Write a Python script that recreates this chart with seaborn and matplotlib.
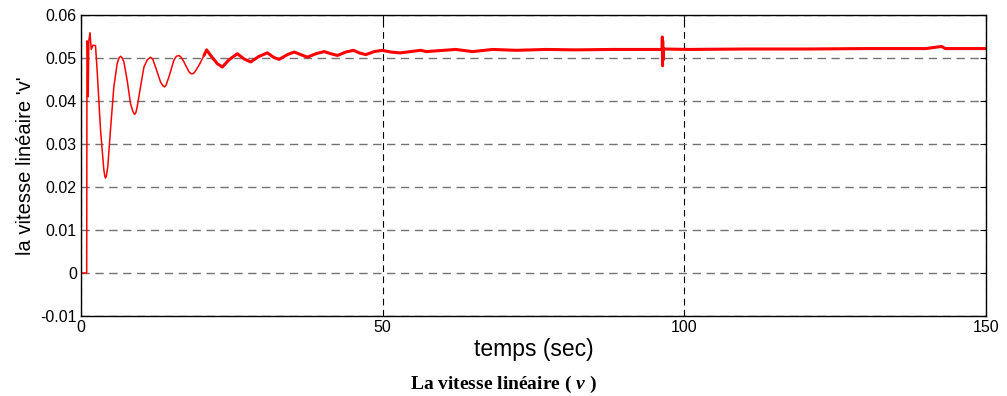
import numpy as np
import pandas as pd
import matplotlib
matplotlib.use("Agg")
import matplotlib.pyplot as plt
import seaborn as sns

# values (time in s, linear speed)
time_s = [0.0, 0.95, 1.0, 1.1, 1.2, 1.3, 1.5, 1.7, 2.0, 2.41, 2.68, 3.24, 3.79, 3.95,
          4.07, 4.2, 4.45, 4.89, 5.45, 6.00, 6.3, 6.55, 6.8, 7.11, 7.66, 8.21, 8.6,
          8.88, 9.1, 9.32, 9.87, 10.43, 11.0, 11.53, 11.9, 12.36, 13.19, 13.6, 13.86,
          14.1, 14.57, 15.40, 15.8, 16.23, 16.6, 17.06, 17.89, 18.3, 18.61, 18.9,
          19.55, 20.38]
speed = [0.0, 0.0, 0.054, 0.0535, 0.041, 0.054, 0.0559, 0.052, 0.0530, 0.0529, 0.0471,
         0.0333, 0.0240, 0.0225, 0.0221, 0.0225, 0.0248, 0.0333, 0.0433, 0.0487,
         0.0500, 0.0504, 0.0501, 0.0491, 0.0448, 0.0394, 0.0376, 0.0369, 0.0373,
         0.0387, 0.0433, 0.0479, 0.0496, 0.0502, 0.0497, 0.0479, 0.0444, 0.0435,
         0.0433, 0.0437, 0.0456, 0.0495, 0.0504, 0.0506, 0.0502, 0.0491, 0.0468,
         0.0463, 0.0464, 0.0468, 0.0483, 0.0506]

# later, noisier part of the signal (drawn thicker)
time_late = [20.38, 20.82, 21.49, 22.59, 23.42, 24.53, 25.91, 27.02, 28.12, 29.51,
             30.89, 32.0, 32.83, 34.21, 35.32, 36.42, 37.53, 38.91, 40.29, 41.40,
             42.51, 43.89, 45.16, 46.10, 47.2, 48.6, 49.9, 51.3, 52.9, 56.3, 57.2,
             62.1, 64.9, 68.2, 72.1, 77.1, 82.0, 88.1, 93.6, 96.3, 96.33, 96.36,
             96.39, 96.42, 96.45, 100.6, 110.0, 120.0, 130.0, 140.0, 142.6, 143.2,
             150.0]
speed_late = [0.0506, 0.0519, 0.0506, 0.0487, 0.0479, 0.0496, 0.0510, 0.0498, 0.0491,
              0.0504, 0.0512, 0.0501, 0.0497, 0.0508, 0.0514, 0.0508, 0.0502, 0.0510,
              0.0515, 0.0510, 0.0506, 0.0514, 0.0518, 0.0512, 0.0508, 0.0515, 0.0518,
              0.0514, 0.0512, 0.0518, 0.0515, 0.0520, 0.0515, 0.0520, 0.0518, 0.0520,
              0.0519, 0.0520, 0.0520, 0.0520, 0.0549, 0.0482, 0.0540, 0.0495, 0.0521,
              0.0520, 0.0521, 0.0521, 0.0522, 0.0522, 0.0527, 0.0522, 0.0522]

xticks = [0, 50, 100, 150]
yticks = [-0.01, 0, 0.01, 0.02, 0.03, 0.04, 0.05, 0.06]
ytick_labels = ["-0.01", "0", "0.01", "0.02", "0.03", "0.04", "0.05", "0.06"]

sns.set_style("white")
plt.rcParams["font.family"] = ["Liberation Sans", "DejaVu Sans"]
plt.rcParams["text.color"] = "black"
plt.rcParams["axes.labelcolor"] = "black"
plt.rcParams["mathtext.fontset"] = "custom"
plt.rcParams["mathtext.bfit"] = "Liberation Serif:italic:bold"

fig = plt.figure(figsize=(10.07, 3.96), dpi=100)
ax = fig.add_axes([0.0804, 0.202, 0.899, 0.760])

early = pd.DataFrame({"t": time_s, "v": speed})
late = pd.DataFrame({"t": time_late, "v": speed_late})
sns.lineplot(data=early, x="t", y="v", color="red", lw=1.1, estimator=None, ax=ax)
sns.lineplot(data=late, x="t", y="v", color="red", lw=2.2, estimator=None, ax=ax)

ax.set_xlim(0, 150)
ax.set_ylim(-0.01, 0.06)
ax.set_xticks(xticks)
ax.set_xticklabels([str(x) for x in xticks])
ax.set_yticks(yticks)
ax.set_yticklabels(ytick_labels)
ax.tick_params(direction="in", length=4, width=0.8, labelsize=11.5, top=True,
               right=True, colors="black", pad=3)

ax.yaxis.grid(True, color="0.45", linestyle=(0, (6, 4)), lw=1.0)
ax.xaxis.grid(True, color="black", linestyle=(0, (6, 4)), lw=0.8)
ax.set_axisbelow(True)
for s in ax.spines.values():
    s.set_color("black")
    s.set_linewidth(1.0)

ax.set_xlabel("temps (sec)", fontsize=16.5, labelpad=2, color="black")
ax.set_ylabel("la vitesse linéaire 'v'", fontsize=14.5, labelpad=4, color="black")

fig.text(0.5, 0.028, r"La vitesse linéaire ( $\mathbfit{v}$ )", ha="center",
         va="center", fontsize=14, fontweight="bold", color="black",
         family=["Liberation Serif", "DejaVu Serif"])

fig.savefig("out.png", dpi=100)
